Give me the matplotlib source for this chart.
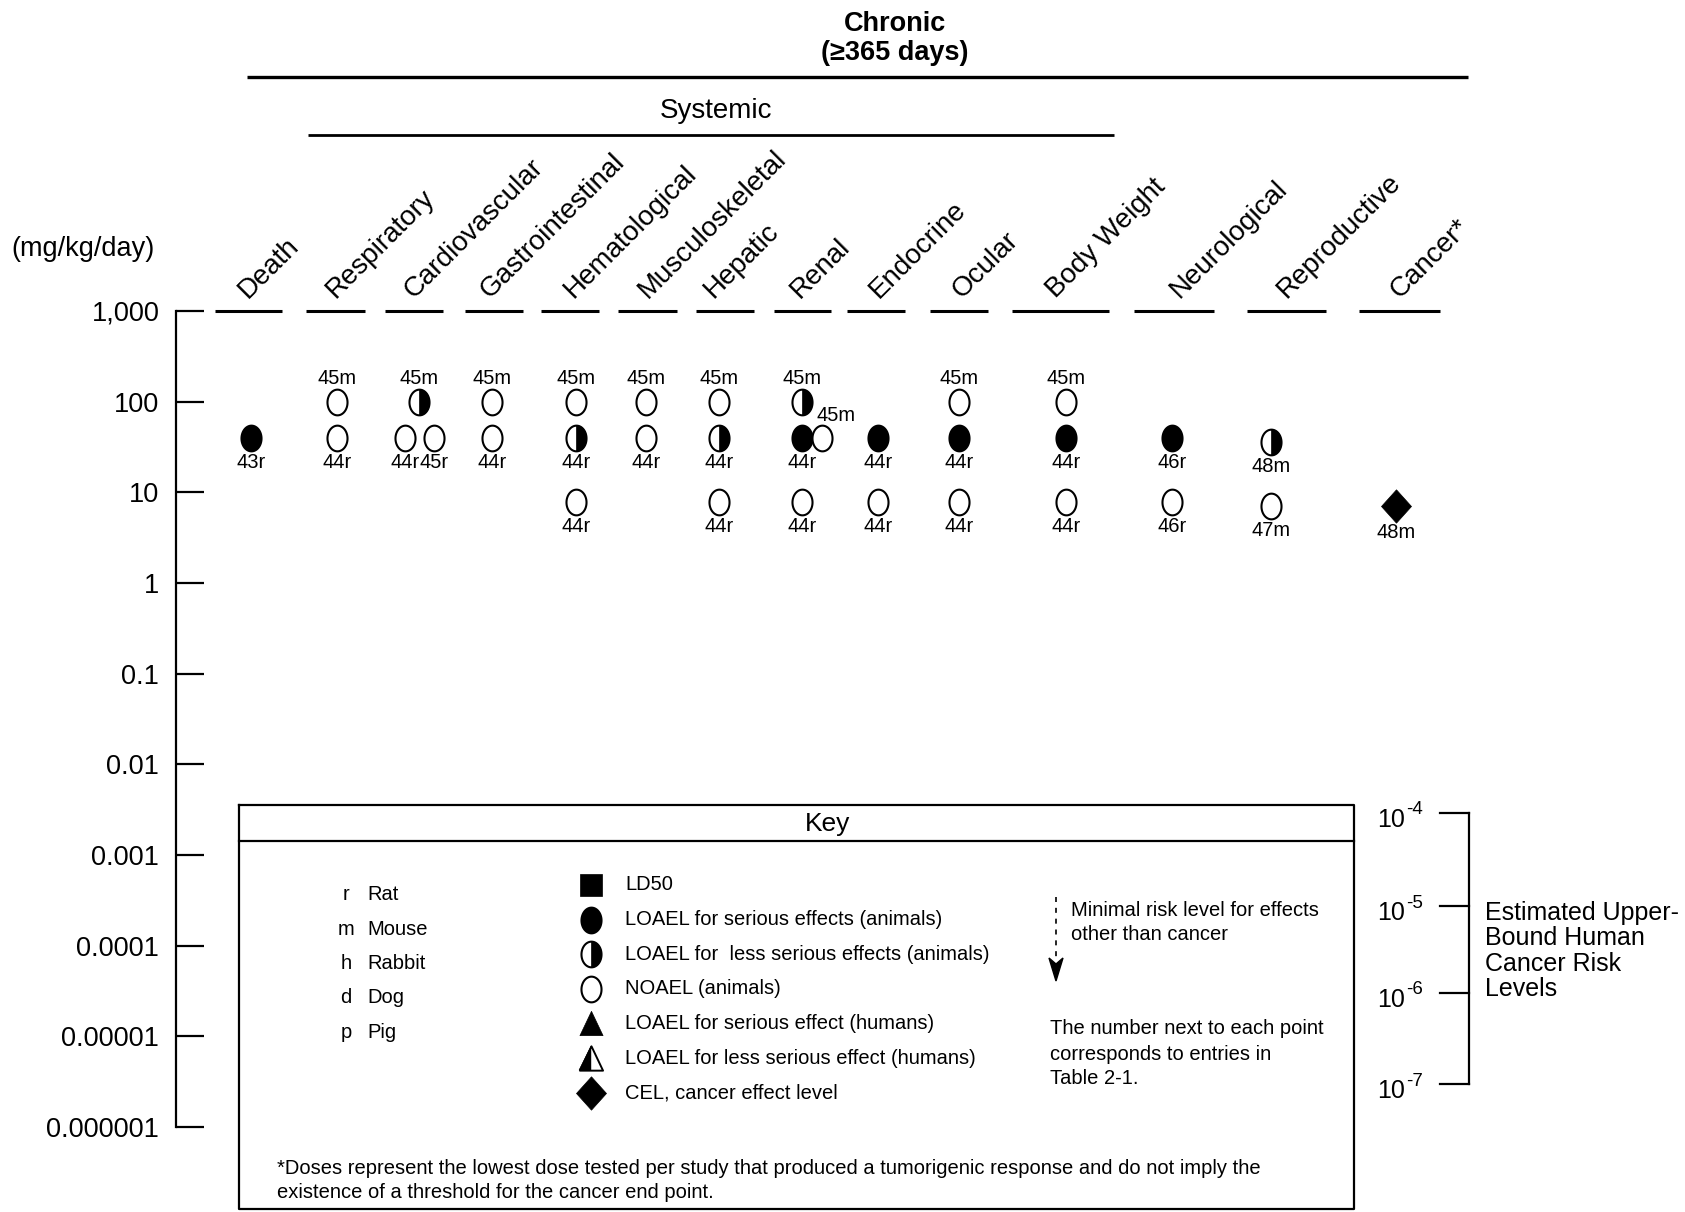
import numpy as np
import matplotlib
matplotlib.use("Agg")
import matplotlib.pyplot as plt
from matplotlib.path import Path
from matplotlib.patches import Polygon

plt.rcParams['font.family'] = ['Liberation Sans', 'DejaVu Sans']

# ---------------- data ----------------
categories = ["Death", "Respiratory", "Cardiovascular", "Gastrointestinal",
              "Hematological", "Musculoskeletal", "Hepatic", "Renal",
              "Endocrine", "Ocular", "Body Weight", "Neurological",
              "Reproductive", "Cancer*"]

point_category = ["Death",
                  "Respiratory", "Respiratory",
                  "Cardiovascular", "Cardiovascular", "Cardiovascular",
                  "Gastrointestinal", "Gastrointestinal",
                  "Hematological", "Hematological", "Hematological",
                  "Musculoskeletal", "Musculoskeletal",
                  "Hepatic", "Hepatic", "Hepatic",
                  "Renal", "Renal", "Renal", "Renal",
                  "Endocrine", "Endocrine",
                  "Ocular", "Ocular", "Ocular",
                  "Body Weight", "Body Weight", "Body Weight",
                  "Neurological", "Neurological",
                  "Reproductive", "Reproductive",
                  "Cancer*"]
point_dose = [40,
              100, 40,
              100, 40, 40,
              100, 40,
              100, 40, 7.8,
              100, 40,
              100, 40, 7.8,
              100, 40, 40, 7.8,
              40, 7.8,
              100, 40, 7.8,
              100, 40, 7.8,
              40, 7.8,
              36, 7,
              7]
point_effect = ["serious",
                "noael", "noael",
                "less", "noael", "noael",
                "noael", "noael",
                "noael", "less", "noael",
                "noael", "noael",
                "noael", "less", "noael",
                "less", "serious", "noael", "noael",
                "serious", "noael",
                "noael", "serious", "noael",
                "noael", "serious", "noael",
                "serious", "noael",
                "less", "noael",
                "cel"]
point_label = ["43r",
               "45m", "44r",
               "45m", "44r", "45r",
               "45m", "44r",
               "45m", "44r", "44r",
               "45m", "44r",
               "45m", "44r", "44r",
               "45m", "44r", "45m", "44r",
               "44r", "44r",
               "45m", "44r", "44r",
               "45m", "44r", "44r",
               "46r", "46r",
               "48m", "47m",
               "48m"]

y_ticks = [1e3, 1e2, 1e1, 1e0, 1e-1, 1e-2, 1e-3, 1e-4, 1e-5, 1e-6]
y_ticklabels = ["1,000", "100", "10", "1", "0.1", "0.01", "0.001",
                "0.0001", "0.00001", "0.000001"]
risk_exponents = ["-4", "-5", "-6", "-7"]
species_codes = ["r", "m", "h", "d", "p"]
species_names = ["Rat", "Mouse", "Rabbit", "Dog", "Pig"]
key_symbols = ["ld50", "serious", "less", "noael", "h_serious", "h_less", "cel"]
key_texts = ["LD50", "LOAEL for serious effects (animals)",
             "LOAEL for  less serious effects (animals)", "NOAEL (animals)",
             "LOAEL for serious effect (humans)",
             "LOAEL for less serious effect (humans)",
             "CEL, cancer effect level"]

# ---------------- layout (pixel units) ----------------
W, H, DPI = 1685, 1212, 100
col_x = dict(zip(categories, [251, 337, 419, 492, 576, 646, 719, 802,
                              878, 959, 1066, 1172, 1271, 1396]))
label_x = [248, 336, 414, 490, 574, 648, 714, 800, 879, 962, 1056, 1180, 1287, 1400]
dash_ext = [(215, 282), (306, 365), (385, 443), (465, 523), (541, 599),
            (618, 677), (696, 754), (774, 831), (847, 905), (930, 988),
            (1012, 1109), (1134, 1214), (1247, 1326), (1359, 1440)]
point_dx = [0] * len(point_dose)
point_dx[4], point_dx[5], point_dx[18] = -14, 15, 20
label_pos = ["below"] * len(point_dose)
for i, d in enumerate(point_dose):
    if d >= 100:
        label_pos[i] = "above"
label_pos[18] = "above_right"

Y_TOP, Y_BOT, AXIS_X = 311, 1127, 176

# ---------------- marker shapes ----------------
ASPECT = 0.78
t = np.linspace(0, 2 * np.pi, 73)
ellipse = Path(np.column_stack([ASPECT * np.sin(t), np.cos(t)]), closed=True)
th = np.linspace(0, np.pi, 40)
right_half = Path(np.vstack([np.column_stack([ASPECT * np.sin(th), np.cos(th)]),
                             [[0, 1]]]), closed=True)
diamond = Path([(0, 1), (0.9, 0), (0, -1), (-0.9, 0), (0, 1)], closed=True)
tri = Path([(0, 1), (0.95, -1), (-0.95, -1), (0, 1)], closed=True)
tri_left = Path([(0, 1), (0, -1), (-0.95, -1), (0, 1)], closed=True)

MS, MEW = 18.5, 1.5


def draw_symbol(axis, x, y, kind, scale=1.0):
    ms = MS * scale
    if kind == "serious":
        axis.plot(x, y, marker=ellipse, ms=ms, mfc="black", mec="black", mew=MEW, ls="none")
    elif kind == "noael":
        axis.plot(x, y, marker=ellipse, ms=ms, mfc="white", mec="black", mew=MEW, ls="none")
    elif kind == "less":
        axis.plot(x, y, marker=ellipse, ms=ms, mfc="white", mec="black", mew=MEW, ls="none")
        axis.plot(x, y, marker=right_half, ms=ms, mfc="black", mec="black", mew=0.5, ls="none")
    elif kind == "cel":
        axis.plot(x, y, marker=diamond, ms=24 * scale, mfc="black", mec="black", mew=0.5, ls="none")
    elif kind == "ld50":
        axis.plot(x, y, marker="s", ms=15.5 * scale, mfc="black", mec="black", mew=0.5, ls="none")
    elif kind == "h_serious":
        axis.plot(x, y, marker=tri, ms=17.5 * scale, mfc="black", mec="black", mew=0.5, ls="none")
    elif kind == "h_less":
        axis.plot(x, y, marker=tri, ms=17.5 * scale, mfc="white", mec="black", mew=1.4, ls="none")
        axis.plot(x, y, marker=tri_left, ms=17.5 * scale, mfc="black", mec="black", mew=0.3, ls="none")


fig = plt.figure(figsize=(W / DPI, H / DPI), dpi=DPI)

# decoration layer in pixel coordinates
lay = fig.add_axes([0, 0, 1, 1])
lay.set_xlim(0, W)
lay.set_ylim(H, 0)
lay.axis("off")

# data layer: log dose scale
ax = fig.add_axes([0, 1 - Y_BOT / H, 1, (Y_BOT - Y_TOP) / H])
ax.patch.set_visible(False)
ax.set_xlim(0, W)
ax.set_yscale("log")
ax.set_ylim(1e-6, 1e3)
for s in ["top", "right", "bottom"]:
    ax.spines[s].set_visible(False)
ax.spines["left"].set_position(("data", AXIS_X))
ax.spines["left"].set_linewidth(1.6)
ax.set_xticks([])
ax.set_yticks(y_ticks)
ax.set_yticklabels(y_ticklabels)
ax.yaxis.set_minor_locator(matplotlib.ticker.NullLocator())
ax.tick_params(axis="y", direction="in", length=20, width=1.6, labelsize=19.5, pad=12)

# points and their study labels
for cat, dose, eff, lab, dx, pos in zip(point_category, point_dose, point_effect,
                                        point_label, point_dx, label_pos):
    x = col_x[cat] + dx
    draw_symbol(ax, x, dose, eff)
    if pos == "above":
        off = (0, 16.5)
    elif pos == "above_right":
        off = (10, 16)
    else:
        off = (0, -17.5 if eff != "cel" else -19)
    ax.annotate(lab, (x, dose), xytext=off, textcoords="offset points",
                ha="center", va="center", fontsize=14.5)

# 1,000 reference dashes, one per endpoint column
for x0, x1 in dash_ext:
    lay.plot([x0, x1], [Y_TOP, Y_TOP], color="black", lw=2.2, solid_capstyle="butt")

# endpoint labels
for name, lx in zip(categories, label_x):
    lay.text(lx, 299, name, rotation=45, rotation_mode="anchor",
             ha="left", va="baseline", fontsize=20)

# headers
lay.text(895, 24, "Chronic", ha="center", va="center", fontsize=19.5, fontweight="bold")
lay.text(895, 53, "(\u2265365 days)", ha="center", va="center", fontsize=19.5, fontweight="bold")
lay.plot([247, 1468], [77, 77], color="black", lw=2.4, solid_capstyle="butt")
lay.text(716, 111, "Systemic", ha="center", va="center", fontsize=20)
lay.plot([308, 1114], [135, 135], color="black", lw=2.0, solid_capstyle="butt")
lay.text(11, 249, "(mg/kg/day)", ha="left", va="center", fontsize=19.5)

# key box
KL, KR, KT, KB, KH = 239, 1354, 805, 1209, 841
lay.plot([KL, KR, KR, KL, KL], [KT, KT, KB, KB, KT], color="black", lw=1.6)
lay.plot([KL, KR], [KH, KH], color="black", lw=1.6)
lay.text(828, 824, "Key", ha="center", va="center", fontsize=19)

for i, (c, n) in enumerate(zip(species_codes, species_names)):
    yy = 895 + i * 34.3
    lay.text(346, yy, c, ha="center", va="center", fontsize=14.5)
    lay.text(367, yy, n, ha="left", va="center", fontsize=14.5)

for i, (k, txt) in enumerate(zip(key_symbols, key_texts)):
    yy = 885 + i * 34.6
    draw_symbol(lay, 591, yy, k, scale=1.0)
    lay.text(625, yy, txt, ha="left", va="center", fontsize=14.5)

# minimal risk level arrow
lay.plot([1056, 1056], [897, 960], color="black", lw=1.2, ls=(0, (3, 3.5)))
lay.add_patch(Polygon([[1056, 981], [1049, 958], [1056, 964], [1063, 958]],
                      closed=True, color="black"))
lay.text(1071, 910, "Minimal risk level for effects", ha="left", va="center", fontsize=14.5)
lay.text(1071, 935, "other than cancer", ha="left", va="center", fontsize=14.5)
lay.text(1050, 1028, "The number next to each point", ha="left", va="center", fontsize=14.5)
lay.text(1050, 1054, "corresponds to entries in", ha="left", va="center", fontsize=14.5)
lay.text(1050, 1079, "Table 2-1.", ha="left", va="center", fontsize=14.5)

lay.text(277, 1168, "*Doses represent the lowest dose tested per study that produced a "
         "tumorigenic response and do not imply the", ha="left", va="center", fontsize=14.5)
lay.text(277, 1193, "existence of a threshold for the cancer end point.",
         ha="left", va="center", fontsize=14.5)

# estimated upper-bound human cancer risk bracket
risk_y = [813, 906, 993, 1084]
lay.plot([1469, 1469], [risk_y[0], risk_y[-1]], color="black", lw=1.6)
for yy, ex in zip(risk_y, risk_exponents):
    lay.plot([1440, 1469], [yy, yy], color="black", lw=1.6)
    lay.text(1377, yy + 7, "10", ha="left", va="center", fontsize=18)
    lay.text(1406, yy - 3, ex, ha="left", va="center", fontsize=13.5)
for i, line in enumerate(["Estimated Upper-", "Bound Human", "Cancer Risk", "Levels"]):
    lay.text(1485, 913 + i * 25.3, line, ha="left", va="center", fontsize=18)

fig.savefig("out.png", dpi=DPI)
